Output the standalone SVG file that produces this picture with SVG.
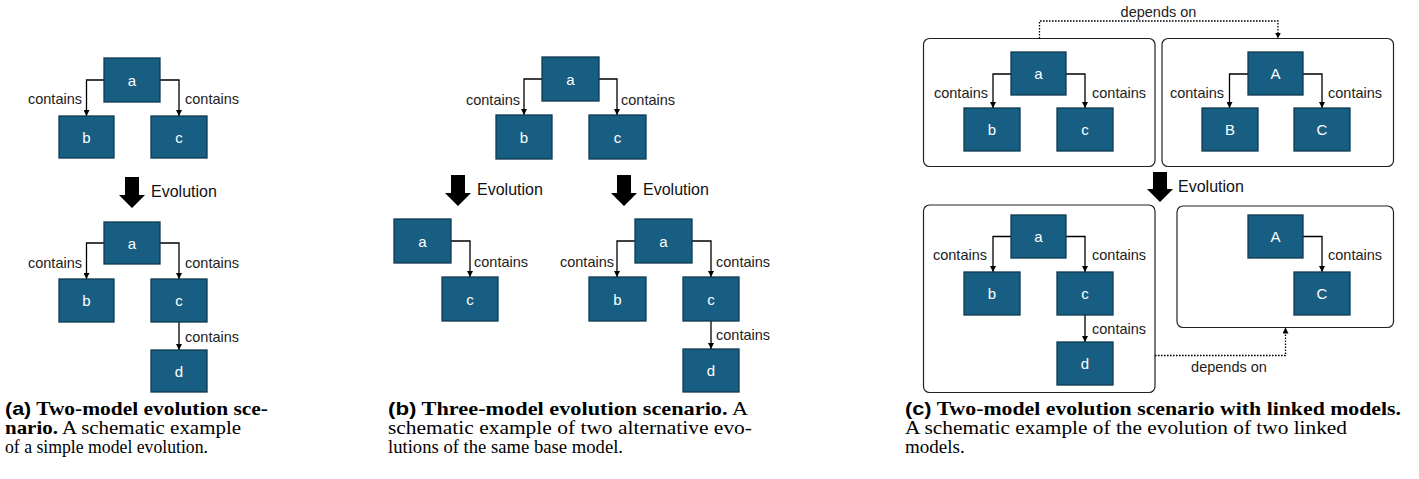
<svg xmlns="http://www.w3.org/2000/svg" width="1419" height="479" viewBox="0 0 1419 479">
<style>
.n rect{fill:#175e82;stroke:#0d3a52;stroke-width:1.3}
.n text{fill:#fff;font-family:"Liberation Sans",Arial,sans-serif;font-size:15px;text-anchor:middle;dominant-baseline:central}
.e{fill:none;stroke:#000;stroke-width:1.3;marker-end:url(#ah)}
.d{fill:none;stroke:#000;stroke-width:1.3;stroke-dasharray:1.6 1.4;marker-end:url(#ah)}
.el{font-family:"Liberation Sans",Arial,sans-serif;font-size:14.5px;fill:#222}
.ev{font-family:"Liberation Sans",Arial,sans-serif;font-size:16px;fill:#111}
.box{fill:#fff;stroke:#222;stroke-width:1.2}
.big{fill:#000}
.cap{font-family:"Liberation Serif","Times New Roman",serif;font-size:19px;fill:#000}
.b{font-weight:bold}
.s{font-family:"Liberation Sans",Arial,sans-serif;font-weight:bold}
</style>
<defs>
<marker id="ah" viewBox="0 0 10 10" refX="10" refY="5" markerWidth="6" markerHeight="6" markerUnits="userSpaceOnUse" orient="auto">
<path d="M0,0 L10,5 L0,10 z" fill="#000"/>
</marker>
</defs>

<!-- containers (panel c) -->
<g id="containers">
<rect class="box" x="923.5" y="38.5" width="231.5" height="128" rx="6"/>
<rect class="box" x="1162" y="38.5" width="231.5" height="128" rx="6"/>
<rect class="box" x="923.5" y="205" width="231.5" height="187.5" rx="6"/>
<rect class="box" x="1177" y="206" width="216.5" height="121.5" rx="6"/>
</g>

<!-- evolution arrows -->
<g id="evolution">
<path class="big" d="M125,177 H139 V195 H145 L132,208 L119,195 H125 Z"/>
<text class="ev" x="151" y="197">Evolution</text>
<path class="big" d="M451,175 H465 V193 H471 L458,206 L445,193 H451 Z"/>
<text class="ev" x="477" y="195">Evolution</text>
<path class="big" d="M617,175 H631 V193 H637 L624,206 L611,193 H617 Z"/>
<text class="ev" x="643" y="195">Evolution</text>
<path class="big" d="M1153,172 H1167 V189 H1173 L1160,202 L1147,189 H1153 Z"/>
<text class="ev" x="1178" y="192">Evolution</text>
</g>

<!-- connectors -->
<g id="connectors">
<path class="e" d="M104,80 H86.5 V116"/>
<path class="e" d="M160,80 H179 V116"/>
<path class="e" d="M104,243 H86.5 V279"/>
<path class="e" d="M160,243 H179 V279"/>
<path class="e" d="M179,322 V350"/>
<path class="e" d="M542,79 H524 V115"/>
<path class="e" d="M599,79 H617 V115"/>
<path class="e" d="M451,241 H470 V277"/>
<path class="e" d="M635,241 H617 V277"/>
<path class="e" d="M692,241 H711 V277"/>
<path class="e" d="M711,321 V349"/>
<path class="e" d="M1011,74 H993 V108"/>
<path class="e" d="M1066,74 H1085 V108"/>
<path class="e" d="M1248,74 H1229.5 V108"/>
<path class="e" d="M1303,74 H1322 V108"/>
<path class="e" d="M1011,236.5 H993 V272"/>
<path class="e" d="M1066,236.5 H1085 V272"/>
<path class="e" d="M1085,315 V342"/>
<path class="e" d="M1303,236.5 H1322 V272"/>
<path class="d" d="M1039.5,38.5 V21 H1278 V38.5"/>
<path class="d" d="M1155,355.5 H1285.5 V327.5"/>
<g class="el">
<text x="82" y="104" text-anchor="end">contains</text>
<text x="185" y="104">contains</text>
<text x="82" y="268" text-anchor="end">contains</text>
<text x="185" y="268">contains</text>
<text x="185" y="342">contains</text>
<text x="520" y="105" text-anchor="end">contains</text>
<text x="621" y="105">contains</text>
<text x="474" y="267">contains</text>
<text x="614" y="267" text-anchor="end">contains</text>
<text x="716" y="267">contains</text>
<text x="716" y="340">contains</text>
<text x="988" y="98" text-anchor="end">contains</text>
<text x="1092" y="98">contains</text>
<text x="1224" y="98" text-anchor="end">contains</text>
<text x="1328" y="98">contains</text>
<text x="987" y="260" text-anchor="end">contains</text>
<text x="1092" y="260">contains</text>
<text x="1092" y="334">contains</text>
<text x="1328" y="260">contains</text>
<text x="1158.5" y="17" text-anchor="middle">depends on</text>
<text x="1229" y="372" text-anchor="middle">depends on</text>
</g>
</g>

<!-- panel a -->
<g id="a1" class="n"><rect x="104" y="58" width="56" height="44"/><text x="132" y="80">a</text></g>
<g id="b1" class="n"><rect x="59" y="116" width="55" height="42"/><text x="86.5" y="137">b</text></g>
<g id="c1" class="n"><rect x="151" y="116" width="56" height="42"/><text x="179" y="137">c</text></g>
<g id="a2" class="n"><rect x="104" y="222" width="56" height="42"/><text x="132" y="243">a</text></g>
<g id="b2" class="n"><rect x="59" y="279" width="55" height="43"/><text x="86.5" y="300.5">b</text></g>
<g id="c2" class="n"><rect x="151" y="279" width="56" height="43"/><text x="179" y="300.5">c</text></g>
<g id="d2" class="n"><rect x="151" y="350" width="56" height="42"/><text x="179" y="371">d</text></g>

<!-- panel b -->
<g id="b_a0" class="n"><rect x="542" y="57" width="57" height="44"/><text x="570.5" y="79">a</text></g>
<g id="b_b0" class="n"><rect x="496" y="115" width="56" height="44"/><text x="524" y="137">b</text></g>
<g id="b_c0" class="n"><rect x="589" y="115" width="57" height="44"/><text x="617.5" y="137">c</text></g>
<g id="b_a1" class="n"><rect x="394" y="219" width="57" height="44"/><text x="422.5" y="241">a</text></g>
<g id="b_c1" class="n"><rect x="442" y="277" width="56" height="44"/><text x="470" y="299">c</text></g>
<g id="b_a2" class="n"><rect x="635" y="219" width="57" height="44"/><text x="663.5" y="241">a</text></g>
<g id="b_b2" class="n"><rect x="589" y="277" width="57" height="44"/><text x="617.5" y="299">b</text></g>
<g id="b_c2" class="n"><rect x="683" y="277" width="56" height="44"/><text x="711" y="299">c</text></g>
<g id="b_d2" class="n"><rect x="683" y="349" width="56" height="43"/><text x="711" y="370.5">d</text></g>

<!-- panel c -->
<g id="c_a0" class="n"><rect x="1011" y="52" width="55" height="43"/><text x="1038.5" y="73.5">a</text></g>
<g id="c_b0" class="n"><rect x="964" y="108" width="56" height="43"/><text x="992" y="129.5">b</text></g>
<g id="c_c0" class="n"><rect x="1057" y="108" width="56" height="43"/><text x="1085" y="129.5">c</text></g>
<g id="c_A0" class="n"><rect x="1248" y="52" width="55" height="43"/><text x="1275.5" y="73.5">A</text></g>
<g id="c_B0" class="n"><rect x="1202" y="108" width="56" height="43"/><text x="1230" y="129.5">B</text></g>
<g id="c_C0" class="n"><rect x="1294" y="108" width="56" height="43"/><text x="1322" y="129.5">C</text></g>
<g id="c_a1" class="n"><rect x="1011" y="215" width="55" height="43"/><text x="1038.5" y="236.5">a</text></g>
<g id="c_b1" class="n"><rect x="964" y="272" width="56" height="43"/><text x="992" y="293.5">b</text></g>
<g id="c_c1" class="n"><rect x="1057" y="272" width="56" height="43"/><text x="1085" y="293.5">c</text></g>
<g id="c_d1" class="n"><rect x="1057" y="342" width="56" height="43"/><text x="1085" y="363.5">d</text></g>
<g id="c_A1" class="n"><rect x="1248" y="215" width="55" height="43"/><text x="1275.5" y="236.5">A</text></g>
<g id="c_C1" class="n"><rect x="1294" y="272" width="56" height="43"/><text x="1322" y="293.5">C</text></g>

<!-- captions -->
<g id="captions" class="cap">
<text x="5" y="415" textLength="263" lengthAdjust="spacingAndGlyphs"><tspan class="s">(a)</tspan><tspan class="b"> Two-model evolution sce-</tspan></text>
<text x="5" y="434" textLength="236" lengthAdjust="spacingAndGlyphs"><tspan class="b">nario.</tspan> A schematic example</text>
<text x="5" y="453" textLength="203" lengthAdjust="spacingAndGlyphs">of a simple model evolution.</text>
<text x="388" y="415" textLength="360" lengthAdjust="spacingAndGlyphs"><tspan class="s">(b)</tspan><tspan class="b"> Three-model evolution scenario.</tspan> A</text>
<text x="388" y="434" textLength="364" lengthAdjust="spacingAndGlyphs">schematic example of two alternative evo-</text>
<text x="388" y="453" textLength="235" lengthAdjust="spacingAndGlyphs">lutions of the same base model.</text>
<text x="905" y="415" textLength="496" lengthAdjust="spacingAndGlyphs"><tspan class="s">(c)</tspan><tspan class="b"> Two-model evolution scenario with linked models.</tspan></text>
<text x="905" y="434" textLength="442" lengthAdjust="spacingAndGlyphs">A schematic example of the evolution of two linked</text>
<text x="905" y="453">models.</text>
</g>
</svg>
